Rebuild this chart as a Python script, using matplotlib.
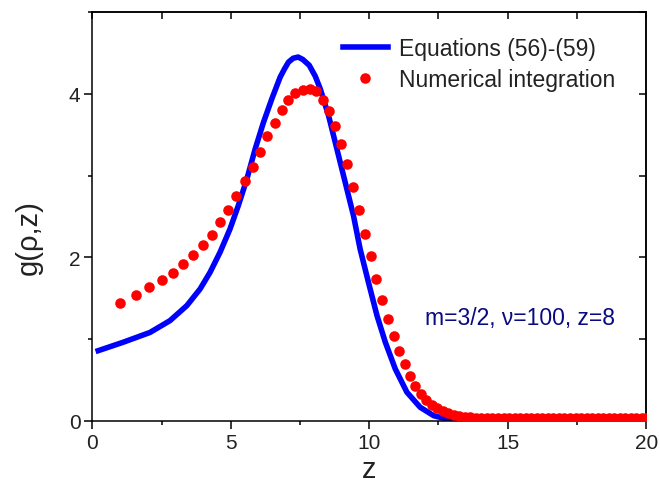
import matplotlib
matplotlib.use("Agg")
import matplotlib.pyplot as plt
from matplotlib.ticker import MultipleLocator, NullFormatter

plt.rcParams['font.family'] = ['Liberation Sans', 'DejaVu Sans']

# Equations (56)-(59)
eq_z = [0.21, 1.11, 2.08, 2.80, 3.41, 3.89, 4.25, 4.61, 4.97, 5.27, 5.58, 5.88,
        6.18, 6.48, 6.78, 6.93, 7.08, 7.25, 7.43, 7.60, 7.83, 8.05, 8.23, 8.53,
        8.83, 9.13, 9.43, 9.67, 9.97, 10.28, 10.58, 10.94, 11.36, 11.84, 12.33,
        12.81, 13.2, 20.0]
eq_g = [0.857, 0.96, 1.08, 1.224, 1.408, 1.612, 1.816, 2.061, 2.346, 2.632, 2.958, 3.326,
        3.652, 3.938, 4.203, 4.30, 4.387, 4.435, 4.45, 4.42, 4.35, 4.215, 4.06, 3.733,
        3.326, 2.918, 2.509, 2.10, 1.694, 1.285, 0.96, 0.633, 0.348, 0.164, 0.061,
        0.02, 0.0, 0.0]

# numerical integration points
num_z = [0.98, 1.56, 2.06, 2.50, 2.91, 3.28, 3.63, 3.98, 4.31, 4.61, 4.91, 5.20,
         5.51, 5.79, 6.06, 6.32, 6.58, 6.84, 7.08, 7.33, 7.59, 7.85, 8.09, 8.33,
         8.55, 8.77, 8.98, 9.20, 9.43, 9.62, 9.85, 10.06, 10.25, 10.46, 10.68,
         10.89, 11.08, 11.28, 11.46, 11.66, 11.86, 12.05, 12.26,
         12.45, 12.65, 12.85, 13.05, 13.25, 13.45, 13.65, 13.85, 14.05, 14.25,
         14.45, 14.65, 14.85, 15.05, 15.25, 15.45, 15.65, 15.85, 16.05, 16.25,
         16.45, 16.65, 16.85, 17.05, 17.25, 17.45, 17.65, 17.85, 18.05, 18.25,
         18.45, 18.65, 18.85, 19.05, 19.25, 19.45, 19.65, 19.85, 20.0]
num_g = [1.44, 1.54, 1.63, 1.72, 1.81, 1.92, 2.03, 2.15, 2.27, 2.43, 2.58, 2.75,
         2.93, 3.11, 3.29, 3.48, 3.64, 3.80, 3.93, 4.01, 4.05, 4.06, 4.03, 3.93,
         3.79, 3.61, 3.39, 3.14, 2.86, 2.58, 2.29, 2.01, 1.74, 1.48, 1.24,
         1.04, 0.85, 0.69, 0.55, 0.43, 0.33, 0.25, 0.19,
         0.15, 0.12, 0.09, 0.07, 0.055, 0.045, 0.04, 0.035, 0.03, 0.03,
         0.03, 0.03, 0.03, 0.03, 0.03, 0.03, 0.03, 0.03, 0.03, 0.03,
         0.03, 0.03, 0.03, 0.03, 0.03, 0.03, 0.03, 0.03, 0.03, 0.03,
         0.03, 0.03, 0.03, 0.03, 0.03, 0.03, 0.03, 0.03, 0.03]

x_ticks = [0, 5, 10, 15, 20]
y_ticks = [0, 2, 4]
annotation = "m=3/2, \u03bd=100, z=8"

text_color = '#222222'

fig = plt.figure(figsize=(6.6, 4.85), dpi=100)
ax = fig.add_axes([0.140, 0.1305, 0.839, 0.8425])

ax.plot(eq_z, eq_g, color='#0000ff', lw=4.0, label='Equations (56)-(59)',
        solid_joinstyle='round', zorder=2)
ax.plot(num_z, num_g, 'o', color='#ff0000', ms=7.6, mec='none',
        label='Numerical integration', zorder=3)

ax.set_xlim(0, 20)
ax.set_ylim(0, 5)
ax.set_xticks(x_ticks)
ax.set_yticks(y_ticks)
ax.xaxis.set_minor_locator(MultipleLocator(2.5))
ax.yaxis.set_minor_locator(MultipleLocator(1))
ax.tick_params(which='major', direction='out', length=5.5, width=1.1,
               labelsize=15, labelcolor=text_color, pad=3)
ax.tick_params(which='minor', direction='out', length=2.8, width=1.1)
for s in ax.spines.values():
    s.set_linewidth(1.1)

# mirrored ticks on top and right, pointing inward
top = ax.secondary_xaxis('top')
top.xaxis.set_major_locator(MultipleLocator(2.5))
top.xaxis.set_major_formatter(NullFormatter())
top.tick_params(direction='in', length=5, width=1.1)
right = ax.secondary_yaxis('right')
right.yaxis.set_major_locator(MultipleLocator(1))
right.yaxis.set_major_formatter(NullFormatter())
right.tick_params(direction='in', length=5, width=1.1)
top.spines['top'].set_linewidth(1.1)
right.spines['right'].set_linewidth(1.1)

ax.set_xlabel('z', fontsize=21, color=text_color)
ax.set_ylabel('g(\u03c1,z)', fontsize=21, color=text_color)
ax.xaxis.set_label_coords(0.5, -0.085)
ax.yaxis.set_label_coords(-0.09, 0.45)

leg = ax.legend(loc='upper left', bbox_to_anchor=(0.4526, 0.939), frameon=False,
                fontsize=16.5, handlelength=1.95, handletextpad=0.5, labelspacing=0.35,
                borderpad=0, borderaxespad=0)
for t in leg.get_texts():
    t.set_color(text_color)

ax.text(0.6007, 0.2537, annotation, transform=ax.transAxes, fontsize=16.5,
        color='#0a0a80', va='center', ha='left')

plt.savefig('out.png', dpi=100)
